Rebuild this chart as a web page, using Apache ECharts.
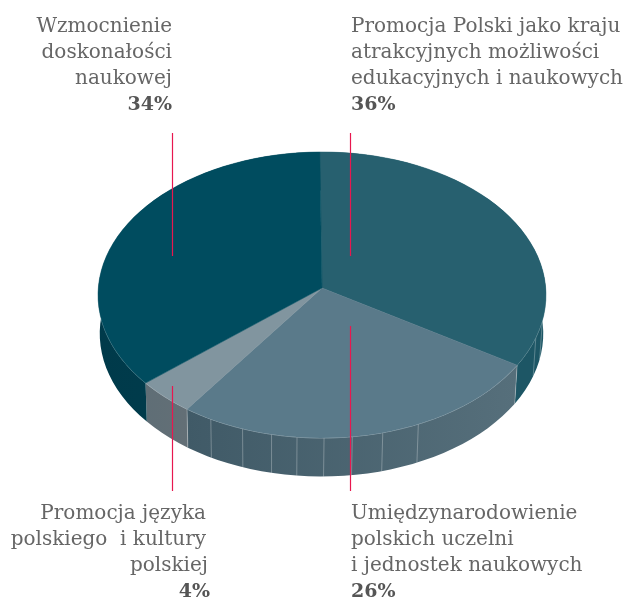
<!DOCTYPE html>
<html><head><meta charset="utf-8">
<style>html,body{margin:0;padding:0;background:#fff}#c{width:626px;height:597px}</style>
<script src="https://cdn.jsdelivr.net/npm/echarts@6/dist/echarts.min.js"></script>
</head><body><div id="c"></div>
<script>
// the printed percentages are the text of the picture (right/left are visually swapped there).
const sliceNames = ['Promocja Polski', 'Umiędzynarodowienie', 'Promocja języka', 'Wzmocnienie'];
const sliceSizes = [34, 26, 4, 36];
const printedPercent = ['36%', '26%', '4%', '34%'];
const topColors = ['#27606f', '#5a7a8a', '#81959f', '#004c5f'];
const wallFrom = ['#1d5665', '#405a67', '#5f6e76', '#003a4a'];
const wallTo = ['#1d5665', '#566f7b', '#636f76', '#003f50'];
const facetAngles = [103, 110, 155.7, 165, 172.6, 179.5, 186.1, 192.4, 199.8, 208.4];
const labelLines = [
  ['Promocja Polski jako kraju', 'atrakcyjnych możliwości', 'edukacyjnych i naukowych'],
  ['Umiędzynarodowienie', 'polskich uczelni', 'i jednostek naukowych'],
  ['Promocja języka', 'polskiego  i kultury', 'polskiej'],
  ['Wzmocnienie', 'doskonałości', 'naukowej']
];

const CX = 322, K = 223.7, Y0 = 288, A = 128.56, C = -0.049;
const CXB = 321.5, KB = 221.5, DEPTH = 38.5, START = -0.6, STEP = 3;
const rad = d => d * Math.PI / 180;
function topPt(deg) {
  const u = Math.sin(rad(deg)), v = -Math.cos(rad(deg)), w = 1 + C * v;
  return [CX + K * u / w, (Y0 + A * v) / w];
}
function botPt(deg) {
  const u = Math.sin(rad(deg)), v = -Math.cos(rad(deg)), w = 1 + C * v;
  return [CXB + KB * u / w, (Y0 + A * v) / w + DEPTH];
}
const total = sliceSizes.reduce((a, b) => a + b, 0);
function bounds(i) {
  let s = 0;
  for (let j = 0; j < i; j++) s += sliceSizes[j];
  return [START + s / total * 360, START + (s + sliceSizes[i]) / total * 360];
}
function arc(fn, a, b) {
  const pts = [];
  const n = Math.max(2, Math.ceil((b - a) / STEP));
  for (let k = 0; k <= n; k++) pts.push(fn(a + (b - a) * k / n));
  return pts;
}
const dataRows = sliceSizes.map((v, i) => ({ name: sliceNames[i], value: v }));

function renderWall(params) {
  const i = params.dataIndex, [a, b] = bounds(i);
  const top = arc(topPt, a, b), bot = arc(botPt, a, b);
  return {
    type: 'polygon',
    shape: { points: top.concat(bot.reverse()) },
    style: {
      fill: new echarts.graphic.LinearGradient(0, 0, 1, 0, [
        { offset: 0, color: wallFrom[i] }, { offset: 1, color: wallTo[i] }
      ])
    }
  };
}
function renderTop(params) {
  const i = params.dataIndex, [a, b] = bounds(i);
  return {
    type: 'polygon',
    shape: { points: [[CX, Y0]].concat(arc(topPt, a, b)) },
    style: { fill: topColors[i], stroke: topColors[i], lineWidth: 0.5 }
  };
}
function renderFacets(params) {
  const children = [];
  if (params.dataIndex === 0) {
    facetAngles.concat([bounds(1)[0], bounds(2)[0]]).forEach(d => {
      const p = topPt(d), q = botPt(d);
      children.push({ type: 'line', shape: { x1: p[0], y1: p[1], x2: q[0], y2: q[1] },
        style: { stroke: 'rgba(255,255,255,0.28)', lineWidth: 1 } });
    });
    children.push({ type: 'polyline', shape: { points: arc(topPt, 92, 300) },
      style: { stroke: 'rgba(255,255,255,0.5)', lineWidth: 0.8, fill: 'none' } });
  }
  return { type: 'group', children };
}

const lead = [[350.5, 133, 256], [350.5, 326, 491], [172.5, 386, 491], [172.5, 133, 256]];
const labelX = [351, 351, 206, 172], labelBaseY = [27, 514, 514, 27];
const alignOf = ['left', 'left', 'right', 'right'];
const graphics = [];
lead.forEach(l => graphics.push({ type: 'line', z: 10,
  shape: { x1: l[0], y1: l[1], x2: l[0], y2: l[2] },
  style: { stroke: '#e8174f', lineWidth: 1.2 } }));
const FONT = '"DejaVu Serif","Liberation Serif",serif';
labelLines.forEach((ls, i) => {
  ls.forEach((t, k) => graphics.push({ type: 'text', z: 10,
    style: { text: t, x: labelX[i] + (i === 2 && k === 2 ? 2 : 0), y: labelBaseY[i] + k * 26,
      textAlign: alignOf[i], textVerticalAlign: 'middle',
      font: '20px ' + FONT, fill: '#666666' } }));
  graphics.push({ type: 'text', z: 10,
    style: { text: printedPercent[i], x: labelX[i] + (i === 2 ? 4 : 0), y: labelBaseY[i] + 3 * 26,
      textAlign: alignOf[i], textVerticalAlign: 'middle',
      font: 'bold 19px ' + FONT, fill: '#555555' } });
});

const chart = echarts.init(document.getElementById('c'), null, { renderer: 'canvas' });
chart.setOption({
  animation: false,
  backgroundColor: '#ffffff',
  series: [
    { type: 'custom', coordinateSystem: 'none', z: 1, data: dataRows, renderItem: renderWall, silent: true },
    { type: 'custom', coordinateSystem: 'none', z: 2, data: dataRows, renderItem: renderFacets, silent: true },
    { type: 'custom', coordinateSystem: 'none', z: 3, data: dataRows, renderItem: renderTop, silent: true }
  ],
  graphic: graphics
});
</script></body></html>
